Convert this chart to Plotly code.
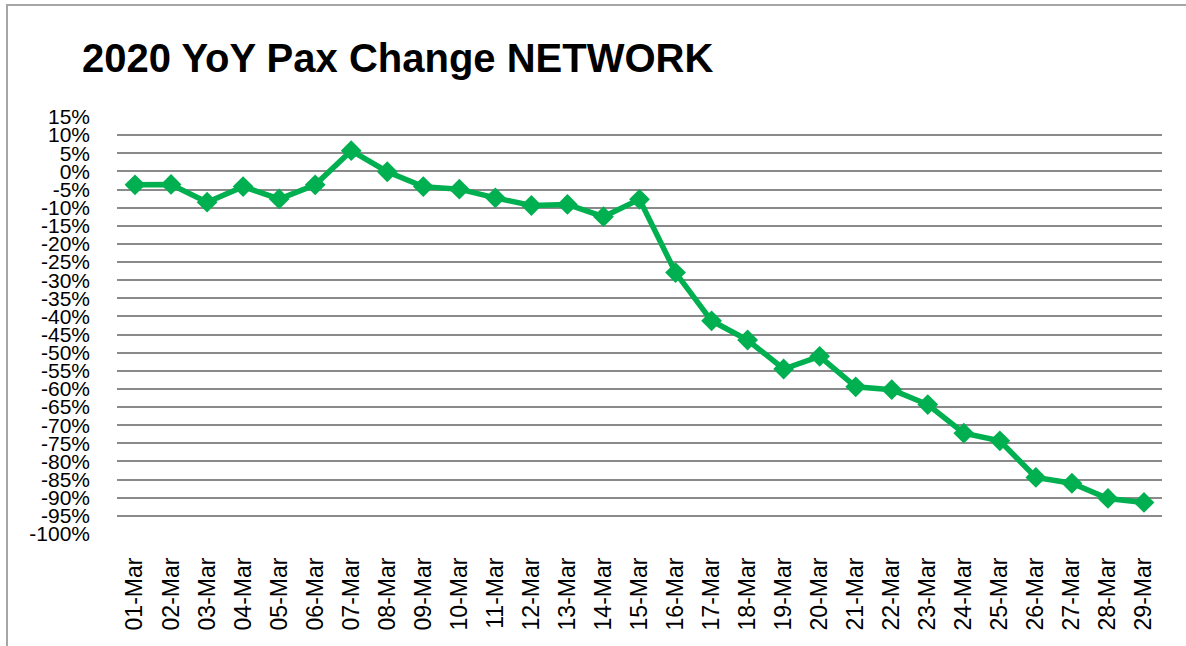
import plotly.graph_objects as go

dates = ["01-Mar", "02-Mar", "03-Mar", "04-Mar", "05-Mar", "06-Mar", "07-Mar", "08-Mar",
         "09-Mar", "10-Mar", "11-Mar", "12-Mar", "13-Mar", "14-Mar", "15-Mar", "16-Mar",
         "17-Mar", "18-Mar", "19-Mar", "20-Mar", "21-Mar", "22-Mar", "23-Mar", "24-Mar",
         "25-Mar", "26-Mar", "27-Mar", "28-Mar", "29-Mar"]

yoy_change = [-0.037, -0.036, -0.085, -0.042, -0.076, -0.037, 0.057, -0.001,
              -0.042, -0.049, -0.073, -0.094, -0.091, -0.125, -0.077, -0.279,
              -0.412, -0.465, -0.545, -0.510, -0.594, -0.602, -0.643, -0.722,
              -0.743, -0.844, -0.860, -0.902, -0.913]

y_tick_values = [0.15, 0.10, 0.05, 0.0, -0.05, -0.10, -0.15, -0.20, -0.25, -0.30, -0.35,
                 -0.40, -0.45, -0.50, -0.55, -0.60, -0.65, -0.70, -0.75, -0.80, -0.85,
                 -0.90, -0.95, -1.00]
y_tick_labels = ["15%", "10%", "5%", "0%", "-5%", "-10%", "-15%", "-20%", "-25%", "-30%",
                 "-35%", "-40%", "-45%", "-50%", "-55%", "-60%", "-65%", "-70%", "-75%",
                 "-80%", "-85%", "-90%", "-95%", "-100%"]

W, H = 1186, 646
ML, MR, MT, MB = 117, 24, 117, 112

fig = go.Figure()
fig.add_trace(go.Scatter(
    x=dates, y=yoy_change, mode="lines+markers",
    line=dict(color="#00b050", width=5.5),
    marker=dict(symbol="diamond", size=16, color="#00b050"),
    showlegend=False, cliponaxis=False,
))

pw = W - ML - MR
ph = H - MT - MB
def px_x(p):
    return (p - ML) / pw
def px_y(p):
    return (H - MB - p) / ph

fig.add_shape(type="rect", xref="paper", yref="paper",
              x0=px_x(7), x1=px_x(1200), y0=px_y(5), y1=px_y(700),
              line=dict(color="#a6a6a6", width=2), fillcolor="rgba(0,0,0,0)", layer="below")

fig.update_layout(
    width=W, height=H,
    margin=dict(l=ML, r=MR, t=MT, b=MB, autoexpand=False),
    paper_bgcolor="white", plot_bgcolor="white",
    title=dict(text="<b>2020 YoY Pax Change NETWORK</b>",
               font=dict(family="Liberation Sans", size=40, color="black"),
               x=82 / W, xanchor="left", y=1 - 58 / H, yanchor="middle"),
    font=dict(family="Liberation Sans", color="black"),
    xaxis=dict(
        type="category", range=[-0.5, len(dates) - 0.5],
        showgrid=False, showline=False, zeroline=False, automargin=False,
        tickangle=-90, tickfont=dict(size=23, family="Liberation Sans", color="black"),
        ticks="", ticklabelstandoff=18,
    ),
    yaxis=dict(
        range=[-1.0, 0.15], tickvals=y_tick_values, ticktext=y_tick_labels, automargin=False,
        showgrid=True, gridcolor="#8a8a8a", gridwidth=2,
        zeroline=False, showline=False, ticks="",
        tickfont=dict(size=21, family="Liberation Sans", color="black"),
        ticklabelstandoff=26,
    ),
)

fig.write_html("out.html", config={"displayModeBar": False},
               post_script="document.body.style.margin='0';document.body.style.overflow='hidden';")
